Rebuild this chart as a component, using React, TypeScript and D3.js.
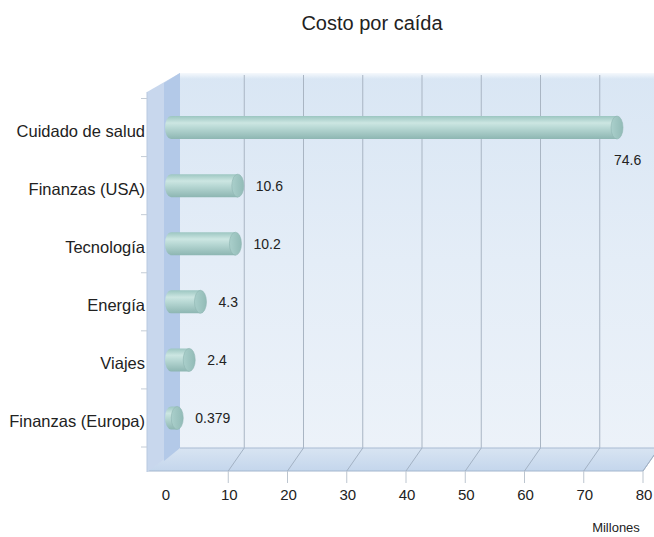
import React from "react";
import * as d3 from "d3";

const categories = ["Cuidado de salud", "Finanzas (USA)", "Tecnología", "Energía", "Viajes", "Finanzas (Europa)"];
const values = [74.6, 10.6, 10.2, 4.3, 2.4, 0.379];
const valueLabels = ["74.6", "10.6", "10.2", "4.3", "2.4", "0.379"];
const xTicks = [0, 10, 20, 30, 40, 50, 60, 70, 80];
const title = "Costo por caída";
const unitLabel = "Millones";

const W = 654, H = 537;
const DX = 16, DY = -22; // depth offset front->back
const FONT = "'Liberation Sans', Arial, Helvetica, sans-serif";

export default function App() {
  const xFront = d3.scaleLinear().domain([0, 80]).range([169, 643]);
  const xBack = (v: number) => xFront(v) + DX;
  const xMid = (v: number) => xFront(v) + DX / 2;
  const y = d3.scaleBand<string>().domain(categories).range([98.5, 447]).paddingInner(0).paddingOuter(0);
  const yc = (c: string) => (y(c) as number) + y.bandwidth() / 2;

  const wallTop = 73, wallBottom = 448, floorFront = wallBottom - DY + 1;
  const leftX = 147, leftBackX = 180;
  const barH = 23;

  return (
    <svg width={W} height={H} style={{ display: "block", position: "absolute", left: 0, top: 0 }} fontFamily={FONT}>
      <defs>
        <linearGradient id="backWall" x1="0" y1="0" x2="0" y2="1">
          <stop offset="0" stopColor="#d9e6f4" />
          <stop offset="0.5" stopColor="#e4edf7" />
          <stop offset="1" stopColor="#ecf2f9" />
        </linearGradient>
        <linearGradient id="floorG" x1="0" y1="0" x2="0" y2="1">
          <stop offset="0" stopColor="#d8e4f2" />
          <stop offset="1" stopColor="#c4d6ec" />
        </linearGradient>
        <linearGradient id="barG" x1="0" y1="0" x2="0" y2="1">
          <stop offset="0" stopColor="#9cc6c1" />
          <stop offset="0.3" stopColor="#cce6e2" />
          <stop offset="0.5" stopColor="#b9d9d5" />
          <stop offset="1" stopColor="#8db6b2" />
        </linearGradient>
        <linearGradient id="capG" x1="0" y1="0" x2="1" y2="0">
          <stop offset="0" stopColor="#aacfcb" />
          <stop offset="1" stopColor="#92bbb7" />
        </linearGradient>
        <linearGradient id="topFade" x1="0" y1="0" x2="0" y2="1">
          <stop offset="0" stopColor="#ffffff" stopOpacity="1" />
          <stop offset="1" stopColor="#ffffff" stopOpacity="0" />
        </linearGradient>
      </defs>

      <text x={372} y={30} textAnchor="middle" fontSize={20} fill="#222">{title}</text>

      {/* back wall */}
      <rect x={leftBackX} y={wallTop} width={W - leftBackX} height={wallBottom - wallTop} fill="url(#backWall)" />
      <rect x={leftBackX} y={wallTop - 2} width={W - leftBackX} height={8} fill="url(#topFade)" />

      {/* back gridlines */}
      {xTicks.filter(t => t > 0).map(t => (
        <line key={"g" + t} x1={xBack(t)} x2={xBack(t)} y1={wallTop + 2} y2={wallBottom} stroke="#a9b5c3" strokeWidth={1} />
      ))}

      {/* floor */}
      <polygon
        points={`${leftX},${floorFront} ${leftBackX},${wallBottom} ${xBack(80)},${wallBottom} ${xFront(80)},${floorFront}`}
        fill="url(#floorG)"
      />
      <line x1={leftBackX} x2={W} y1={wallBottom} y2={wallBottom} stroke="#a9bbd2" />
      <line x1={leftX} x2={xFront(80)} y1={floorFront} y2={floorFront} stroke="#a3b6ce" />
      <line x1={xFront(80)} x2={xBack(80)} y1={floorFront} y2={wallBottom} stroke="#a3b6ce" />
      {xTicks.filter(t => t > 0).map(t => (
        <g key={"f" + t}>
          <line x1={xBack(t)} y1={wallBottom} x2={xFront(t)} y2={floorFront} stroke="#a3b2c4" />
          <line x1={xFront(t)} y1={floorFront} x2={xFront(t)} y2={floorFront + 12} stroke="#bcc5cf" />
        </g>
      ))}

      {/* left wall */}
      <polygon
        points={`${leftX},92 ${leftBackX},${wallTop} ${leftBackX},${wallBottom} ${leftX},${floorFront + 1}`}
        fill="#c8d7ed"
      />
      <polygon
        points={`${xFront(0) - 5},83 ${leftBackX},${wallTop} ${leftBackX},${wallBottom} ${xFront(0) - 5},${floorFront - 10}`}
        fill="#b3c9e8"
      />
      <line x1={leftX} x2={leftX} y1={92} y2={floorFront + 1} stroke="#b8c9e0" />

      {/* left ticks */}
      {categories.map((c, i) => (
        <line key={"lt" + i} x1={leftX - 6} x2={leftX} y1={y(c) as number} y2={y(c) as number} stroke="#c4ccd6" />
      ))}
      <line x1={leftX - 6} x2={leftX} y1={447} y2={447} stroke="#c4ccd6" />

      {/* bars */}
      {categories.map((c, i) => {
        const v = values[i];
        const x0 = xMid(0) - 12;
        const x1 = xMid(v) - 2;
        const cy = yc(c);
        const rx = 6;
        return (
          <g key={"b" + i}>
            <path
              d={`M${x0 + rx},${cy - barH / 2} L${x1},${cy - barH / 2} L${x1},${cy + barH / 2} L${x0 + rx},${cy + barH / 2} A${rx},${barH / 2} 0 0 1 ${x0 + rx},${cy - barH / 2} Z`}
              fill="url(#barG)"
            />
            <ellipse cx={x1} cy={cy} rx={rx} ry={barH / 2} fill="url(#capG)" stroke="#8eb5b1" strokeWidth={0.6} />
          </g>
        );
      })}

      {/* value labels */}
      {categories.map((c, i) => {
        const v = values[i];
        const capEnd = xMid(v) + 4;
        const cy = yc(c);
        if (xFront(v) + 60 > W) {
          return (
            <text key={"v" + i} x={xMid(v) - 5} y={cy + 37} fontSize={14} fill="#222">{valueLabels[i]}</text>
          );
        }
        return (
          <text key={"v" + i} x={capEnd + 12} y={cy + 5.5} fontSize={14} fill="#222">{valueLabels[i]}</text>
        );
      })}

      {/* category labels */}
      {categories.map((c, i) => (
        <text key={"c" + i} x={145} y={yc(c) + 9.5} textAnchor="end" fontSize={16.5} fill="#222">{c}</text>
      ))}

      {/* x tick labels */}
      {xTicks.map(t => (
        <text key={"x" + t} x={t === 0 ? xFront(0) - 3 : xFront(t) + 1} y={500} textAnchor="middle" fontSize={15} fill="#222">{t}</text>
      ))}

      <text x={616} y={532} textAnchor="middle" fontSize={13} fill="#222">{unitLabel}</text>
    </svg>
  );
}
